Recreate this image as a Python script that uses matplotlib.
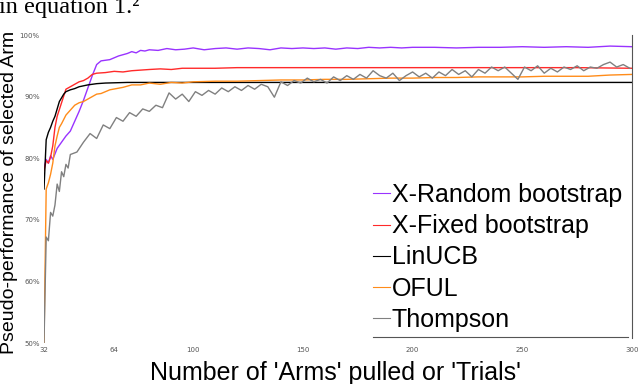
import matplotlib
matplotlib.use("Agg")
import matplotlib.pyplot as plt

# ---- data ----
trials_random = [32, 33, 34, 35, 36, 38, 40, 42, 44, 46, 48, 50, 52, 54, 56, 58, 60, 62, 64, 66,
                 68, 70, 72, 74, 76, 78, 80, 84, 88, 92, 96, 100, 105, 110, 115, 120, 125, 130,
                 135, 140, 145, 150, 155, 160, 165, 170, 175, 180, 185, 190, 195, 200, 210, 220,
                 230, 240, 250, 260, 270, 280, 290, 300]
perf_random = [78.4, 79.8, 79.2, 80.4, 79.8, 81.6, 82.6, 83.6, 84.4, 86.0, 87.6, 89.4, 91.4, 93.4,
               95.2, 95.8, 95.9, 96.0, 96.3, 96.6, 96.8, 97.0, 97.3, 97.1, 97.5, 97.4, 97.6, 97.5,
               97.8, 97.6, 97.7, 97.9, 97.6, 97.8, 97.9, 97.7, 97.9, 97.8, 97.6, 97.9, 97.8, 97.9,
               97.8, 97.9, 97.7, 97.9, 97.8, 98.0, 97.9, 98.0, 97.9, 98.0, 98.0, 97.9, 98.0, 98.0,
               98.1, 98.0, 98.1, 98.0, 98.2, 98.1]

trials_fixed = [32, 33, 34, 35, 36, 37, 38, 40, 42, 44, 46, 48, 50, 52, 54, 56, 60, 64, 68, 72,
                76, 80, 85, 90, 95, 100, 110, 120, 130, 140, 150, 175, 200, 225, 250, 275, 300]
perf_fixed = [78.0, 79.6, 79.2, 80.2, 82.0, 85.0, 86.8, 89.0, 91.2, 91.6, 92.0, 92.4, 92.6, 93.0,
              93.6, 93.8, 93.9, 94.1, 94.0, 94.2, 94.3, 94.4, 94.5, 94.4, 94.6, 94.6, 94.6, 94.7,
              94.7, 94.7, 94.7, 94.7, 94.7, 94.7, 94.7, 94.7, 94.6]

trials_linucb = [32, 33, 34, 35, 36, 37, 38, 39, 40, 41, 42, 44, 46, 48, 52, 56, 60, 70, 300]
perf_linucb = [75.0, 83.0, 84.2, 85.0, 86.0, 86.8, 88.0, 89.2, 89.8, 90.4, 90.8, 91.1, 91.3, 91.6,
               91.9, 92.1, 92.2, 92.3, 92.3]

trials_oful = [32, 33, 34, 35, 36, 37, 38, 39, 40, 42, 44, 46, 48, 50, 52, 54, 56, 58, 60, 62, 65,
               68, 72, 76, 80, 85, 90, 95, 100, 110, 120, 130, 140, 150, 160, 170, 180, 190, 200,
               210, 220, 230, 240, 250, 260, 270, 280, 290, 300]
perf_oful = [50.0, 75.0, 76.0, 77.4, 79.2, 82.0, 83.6, 85.0, 85.6, 87.0, 87.8, 88.6, 89.0, 89.2,
             89.6, 90.0, 90.4, 90.5, 90.8, 91.1, 91.3, 91.5, 91.9, 91.9, 92.2, 92.0, 92.3, 92.2,
             92.4, 92.5, 92.5, 92.6, 92.7, 92.7, 92.8, 92.8, 92.9, 93.0, 93.0, 93.1, 93.1, 93.2,
             93.2, 93.2, 93.3, 93.3, 93.3, 93.5, 93.6]

trials_thompson = [32, 33, 34, 35, 36, 37, 38, 39, 40, 41, 42, 43, 44, 47, 50, 53, 56, 59, 62, 65,
                   68, 71, 74, 77, 80, 83, 86, 89, 92, 95, 98, 101, 104, 107, 110, 113, 116, 119,
                   122, 125, 128, 131, 134, 137, 140, 143, 146, 149, 152, 155, 158, 161, 164, 167,
                   170, 173, 176, 179, 182, 185, 188, 191, 194, 197, 200, 203, 206, 209, 212, 215,
                   218, 221, 224, 227, 230, 233, 236, 239, 242, 245, 248, 251, 254, 257, 260, 263,
                   266, 269, 272, 275, 278, 281, 284, 287, 290, 293, 296, 299]
perf_thompson = [50.0, 67.2, 66.6, 71.2, 70.6, 72.4, 75.8, 74.6, 77.8, 77.0, 79.0, 78.4, 80.6,
                 81.0, 82.6, 84.0, 83.2, 85.4, 84.8, 86.6, 86.0, 87.4, 86.8, 88.0, 87.6, 88.6,
                 88.2, 90.6, 89.6, 90.4, 89.2, 90.8, 90.2, 91.0, 90.4, 91.4, 90.8, 91.6, 91.0,
                 91.8, 91.2, 92.0, 91.6, 89.9, 92.4, 91.8, 92.6, 92.2, 93.0, 92.4, 92.8, 92.2,
                 93.2, 92.6, 93.4, 92.8, 93.6, 93.0, 94.2, 93.4, 93.0, 93.8, 92.6, 93.4, 94.0,
                 93.2, 93.8, 93.0, 94.0, 93.4, 94.4, 93.6, 94.2, 93.2, 94.4, 93.8, 94.8, 94.2,
                 94.8, 93.8, 92.8, 94.8, 94.2, 95.0, 93.8, 94.6, 94.0, 94.8, 94.4, 95.0, 94.2,
                 94.8, 94.6, 95.2, 95.6, 94.8, 95.2, 94.6]

x_ticks = [32, 64, 100, 150, 200, 250, 300]
y_ticks = [50, 60, 70, 80, 90, 100]
y_tick_labels = ["50%", "60%", "70%", "80%", "90%", "100%"]

fig = plt.figure(figsize=(6.4, 3.84), dpi=100)
ax = fig.add_axes([44 / 640, 41 / 384, 588 / 640, 308 / 384])

ax.plot(trials_random, perf_random, color="#9933ff", lw=1.0, label="X-Random bootstrap")
ax.plot(trials_fixed, perf_fixed, color="#ff2a2a", lw=1.0, label="X-Fixed bootstrap")
ax.plot(trials_linucb, perf_linucb, color="black", lw=1.0, label="LinUCB")
ax.plot(trials_oful, perf_oful, color="#ff8c1a", lw=1.0, label="OFUL")
ax.plot(trials_thompson, perf_thompson, color="#808080", lw=1.0, label="Thompson")

ax.set_xlim(32, 300)
ax.set_ylim(50, 100)

# odd, partly drawn frame as in the scanned figure
ax.spines["left"].set_visible(False)
ax.spines["top"].set_visible(False)
ax.spines["right"].set_bounds(50.8, 100)
ax.spines["right"].set_color("#555555")
ax.spines["bottom"].set_position(("data", 50.9))
ax.spines["bottom"].set_bounds(182, 298)
ax.spines["bottom"].set_color("#555555")

ax.set_xticks(x_ticks)
ax.set_xticklabels([str(t) for t in x_ticks])
ax.set_xticks([64, 200, 250], minor=True)
ax.set_yticks(y_ticks)
ax.set_yticklabels(y_tick_labels)
ax.set_yticks([80], minor=True)

ax.tick_params(axis="x", which="major", length=0, pad=7, labelsize=5, labelcolor="#555555")
ax.tick_params(axis="x", which="minor", direction="in", length=7, width=0.8,
               top=True, bottom=True, color="#333333")
ax.tick_params(axis="y", which="major", length=0, pad=3, labelsize=5, labelcolor="#555555")
ax.tick_params(axis="y", which="minor", direction="inout", length=6, width=0.8,
               left=True, right=True, color="#333333")

ax.set_xlabel("Number of 'Arms' pulled or 'Trials'", fontsize=18, family="Liberation Sans")
ax.xaxis.set_label_coords(0.495, -0.06)
ax.set_ylabel("Pseudo-performance of selected Arm", fontsize=14, family="Liberation Sans")
ax.yaxis.set_label_coords(-0.045, 0.49)

leg = fig.legend(loc="upper left", bbox_to_anchor=(373 / 640, 1 - 183 / 384), frameon=False,
                 prop={"family": "Liberation Sans", "size": 18}, handlelength=0.68,
                 handletextpad=0.08, labelspacing=0.29, borderpad=0, borderaxespad=0)
for h in leg.legend_handles:
    h.set_linewidth(0.8)

fig.text(-0.002, 1 - 12.5 / 384, "in equation 1.\u00b2", family="Liberation Serif",
         fontsize=17.5, va="baseline", ha="left")

fig.savefig("out.png", dpi=100)
